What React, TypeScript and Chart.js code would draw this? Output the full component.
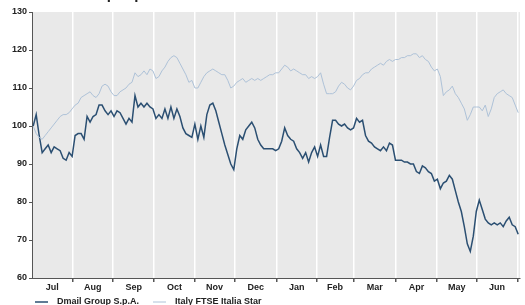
import React, { useEffect, useRef } from "react";
import { Chart, registerables } from "chart.js";

Chart.register(...registerables);

const seriesNames = ["Dmail Group S.p.A.", "Italy FTSE Italia Star"];
const monthLabels = ["Jul", "Aug", "Sep", "Oct", "Nov", "Dec", "Jan", "Feb", "Mar", "Apr", "May", "Jun"];
// month boundaries in sample index units
const monthBounds = [-0.4, 13.1, 26.7, 40.4, 54, 67.2, 81.4, 94.6, 107, 121.2, 134.8, 148.1, 161.8];
const yTicks = [60, 70, 80, 90, 100, 110, 120, 130];

const dmail = [
  100, 103, 97.5, 93, 94, 95, 93, 94.5, 94, 93.5, 91.5, 91, 93, 92, 97.5, 98, 98, 96.5, 102.5, 101,
  102.5, 103, 105.5, 105.5, 104, 103, 104, 102.5, 104, 103.5, 102, 100.5, 102, 101, 108, 105, 106, 105, 106, 105,
  104.5, 102, 103, 102, 104.5, 102, 105, 102, 104.5, 102.5, 99.5, 98, 97.5, 97, 100.5, 96.5, 100, 97, 103, 105.5,
  106, 104, 101, 98, 95, 92.5, 90, 88.5, 94, 97.5, 96.5, 99, 100, 101, 99.5, 96.5, 95, 94, 94, 94,
  94, 93.5, 94, 96, 99.5, 97.5, 96.5, 96, 94, 93, 91.5, 93, 90.5, 93, 94.5, 92, 95, 92, 92, 97,
  101.5, 101.5, 100.5, 100, 100.5, 99.5, 99, 99.5, 102, 101, 101.5, 97.5, 96, 95.5, 94.5, 94, 93.5, 94.5, 93.5, 95.5,
  95, 91, 91, 91, 90.5, 90.5, 90, 90, 88, 87.5, 89.5, 89, 88, 87.5, 85.5, 86, 83.5, 85, 85.5, 87,
  86, 83, 80, 77.5, 73.5, 69, 67, 71, 77.5, 80.5, 78, 75.5, 74.5, 74, 74.5, 74, 74.5, 73.5, 75, 76,
  74, 73.5, 71.5,
];

const ftse = [
  100, 98, 97, 96.5, 97.5, 98.5, 99.5, 100.5, 101.5, 102.5, 103, 103, 103.5, 104.5, 105.5, 106, 107.5, 108, 108.5, 109,
  108, 107.5, 108.5, 110.5, 111, 110.5, 109, 108, 108, 109, 109.5, 110, 111, 111.5, 114, 113, 113.5, 114.5, 113.5, 115,
  114.5, 112.5, 113, 114.5, 115.5, 117, 118, 118.5, 118, 116.5, 115, 113.5, 111.5, 112, 110, 110, 111.5, 113, 114, 114.5,
  115, 114.5, 114, 113.5, 113.5, 112, 110, 110.5, 111.5, 112, 112.5, 111.5, 112, 112.5, 112, 112.5, 112, 112.5, 113, 113.5,
  113.5, 114, 114, 115, 116, 115.5, 114.5, 115, 114.5, 114, 113.5, 113.5, 112.5, 113, 112.5, 113, 114, 111, 108.5, 108.5,
  108.5, 109, 110.5, 111.5, 111, 110, 109.5, 110.5, 112, 112.5, 113.5, 114, 114, 115, 115.5, 116, 116.5, 116, 117, 117.5,
  117, 117.5, 117.5, 118, 118, 118.5, 118.5, 119, 119, 118, 118.5, 117.5, 117, 115.5, 114.5, 115, 113, 108, 109, 109.5,
  110.5, 108.5, 107.5, 106, 104.5, 101.5, 103, 105, 105, 105, 104, 105.5, 102.5, 104.5, 107.5, 108.5, 109, 109.5, 108.5, 108,
  107.5, 105.5, 103.5,
];

const FONT = "'Liberation Sans', Arial, sans-serif";
const DARK = "#2b4f72";
const LIGHT = "#aec2d8";

export default function App() {
  const ref = useRef<HTMLCanvasElement>(null);
  useEffect(() => {
    document.body.style.margin = "0";
    const canvas = ref.current!;
    const toPts = (arr: number[]) => arr.map((v, i) => ({ x: i, y: v }));

    const decor = {
      id: "decor",
      beforeDraw(chart: any) {
        const { ctx, chartArea: a } = chart;
        ctx.save();
        ctx.fillStyle = "#e9e9e9";
        ctx.fillRect(a.left, a.top, a.right - a.left, a.bottom - a.top);
        ctx.restore();
      },
      afterDraw(chart: any) {
        const { ctx, chartArea: a, scales } = chart;
        const xs = scales.x;
        ctx.save();
        ctx.fillStyle = "#222";
        ctx.font = `bold 9px ${FONT}`;
        ctx.textAlign = "center";
        ctx.textBaseline = "middle";
        for (let i = 0; i < monthLabels.length; i++) {
          const mid = (monthBounds[i] + monthBounds[i + 1]) / 2;
          ctx.fillText(monthLabels[i], xs.getPixelForValue(mid), a.bottom + 10);
        }
        // title (cut off at top)
        ctx.font = `bold 15px ${FONT}`;
        ctx.textAlign = "left";
        ctx.textBaseline = "alphabetic";
        ctx.fillStyle = "#222";
        ctx.fillText(seriesNames[0], 26, -1);
        // legend
        ctx.font = `bold 9px ${FONT}`;
        ctx.textBaseline = "middle";
        const ly = 302;
        const items = [
          { x: 35, color: DARK, w: 1.5, name: seriesNames[0] },
          { x: 153, color: LIGHT, w: 1, name: seriesNames[1] },
        ];
        for (const it of items) {
          ctx.strokeStyle = it.color;
          ctx.lineWidth = it.w;
          ctx.beginPath();
          ctx.moveTo(it.x, ly);
          ctx.lineTo(it.x + 13, ly);
          ctx.stroke();
          ctx.fillStyle = "#222";
          ctx.fillText(it.name, it.x + 22, ly);
        }
        ctx.restore();
      },
    };

    const chart = new Chart(canvas, {
      type: "line",
      data: {
        datasets: [
          {
            label: seriesNames[1],
            data: toPts(ftse),
            borderColor: LIGHT,
            borderWidth: 1,
            pointRadius: 0,
            tension: 0,
          },
          {
            label: seriesNames[0],
            data: toPts(dmail),
            borderColor: DARK,
            borderWidth: 1.5,
            pointRadius: 0,
            tension: 0,
          },
        ],
      },
      options: {
        animation: false,
        responsive: false,
        maintainAspectRatio: false,
        layout: { padding: { left: 0, right: 5, top: 12, bottom: 0 } },
        plugins: { legend: { display: false }, tooltip: { enabled: false }, title: { display: false } },
        scales: {
          x: {
            type: "linear",
            min: -0.4,
            max: 162.6,
            afterBuildTicks: (s: any) => {
              s.ticks = monthBounds.slice(1).map((v) => ({ value: v }));
            },
            afterFit: (s: any) => {
              s.height = 27;
            },
            ticks: { display: false },
            grid: { color: "#ffffff", lineWidth: 1.5, tickColor: "#555", tickLength: 4, drawTicks: true },
            border: { display: true, color: "#555", width: 1 },
          },
          y: {
            type: "linear",
            min: 60,
            max: 130,
            afterBuildTicks: (s: any) => {
              s.ticks = yTicks.map((v) => ({ value: v }));
            },
            afterFit: (s: any) => {
              s.width = 32;
            },
            ticks: { color: "#222", font: { family: FONT, size: 9, weight: "bold" }, padding: 2 },
            grid: { drawOnChartArea: false, tickColor: "#555", tickLength: 3 },
            border: { display: true, color: "#555", width: 1 },
          },
        },
      },
      plugins: [decor],
    });
    return () => chart.destroy();
  }, []);
  return <canvas ref={ref} width={525} height={305} style={{ display: "block" }} />;
}
